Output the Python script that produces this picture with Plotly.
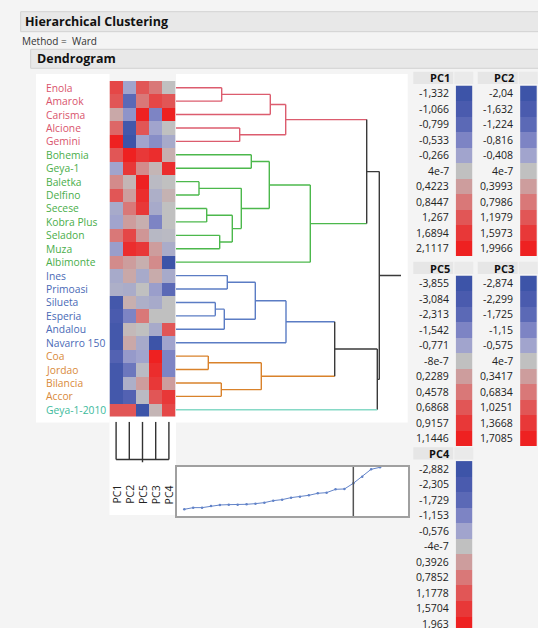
import plotly.graph_objects as go

W, H = 538, 628
FONT = "Open Sans"

# ---------------- data ----------------
names = ["Enola", "Amarok", "Carisma", "Alcione", "Gemini", "Bohemia", "Geya-1", "Baletka",
         "Delfino", "Secese", "Kobra Plus", "Seladon", "Muza", "Albimonte", "Ines", "Primoasi",
         "Silueta", "Esperia", "Andalou", "Navarro 150", "Coa", "Jordao", "Bilancia", "Accor",
         "Geya-1-2010"]
cluster = [0, 0, 0, 0, 0, 1, 1, 1, 1, 1, 1, 1, 1, 1, 2, 2, 2, 2, 2, 2, 3, 3, 3, 3, 4]
columns = ["PC1", "PC2", "PC5", "PC3", "PC4"]

# colour level of each cell (-5 = darkest blue ... 0 = grey ... 5 = brightest red)
pc1_level = [3.5, 3, 0.7, 2.5, 5, 3, -1, 1.5, 3, -0.8, -1, 2, -1.2, 1.5, -0.8, -0.6, -4.5, -4, -4.5, -4.5, -3.5, -4.5, -4.5, -4.5, 3]
pc2_level = [-1, -3, -1.5, -4.5, -5, 5, 4, 0.3, 1, 2, 1, 3.5, 4.5, 1, 0.7, -0.7, 0.5, -2, 0.2, 0.7, -1.3, -2.5, -0.6, -3.5, 3]
pc5_level = [3, 2, 5, 3, -1, 4, 1.5, 5, 4.5, 4, 0.5, 1.2, 4, 0.5, -0.8, 0, -0.6, 2, 0, -0.8, -1, -0.2, 1, -0.2, -5]
pc3_level = [2, 3.5, -2, -1, -1.7, 4.5, 0.3, -0.2, -0.6, -0.8, -2, -0.3, 1, 1.5, 0.6, -1.2, -0.8, 0, -0.8, -5, 5, 4.5, 4, 3, 0.3]
pc4_level = [0, 3, 5, 0, -0.8, 0.5, 4.5, 0, 0.4, 0, 0, -0.2, -0.7, -5, -0.8, -3, 0, 0, 3, -1, -2, -2, 1, 4, 3.5]

# Ward merges (leaf ids 0..24, merged nodes 25..)
merge_left = [0, 25, 3, 26, 5, 7, 9, 11, 31, 30, 29, 35, 14, 16, 38, 37, 40, 20, 22, 42, 41, 28, 45, 46]
merge_right = [1, 2, 4, 27, 6, 8, 10, 12, 32, 33, 34, 13, 15, 17, 18, 39, 19, 21, 23, 43, 44, 36, 24, 47]
merge_height = [45.7, 94.3, 63.7, 109.7, 75.3, 23, 30.7, 43.7, 56.3, 65.3, 93.3, 134.3, 51.3, 39.3,
                48.3, 79.3, 110, 32.3, 45.3, 85.3, 158.7, 190.7, 201.3, 203.3]
root_stem = 225

# scree (distance of each join)
scree_values = [0, 5, 5, 10, 13, 14, 14, 15, 17, 20, 26, 29, 35, 38, 42, 48, 50, 60, 61, 78, 98, 120, 126]
cut_index = 19

legend_levels = [-5, -4, -3, -2, -1, 0, 1, 2, 3, 4, 5]
pc1_ticks = ["-1,332", "-1,066", "-0,799", "-0,533", "-0,266", "4e-7", "0,4223", "0,8447", "1,267", "1,6894", "2,1117"]
pc2_ticks = ["-2,04", "-1,632", "-1,224", "-0,816", "-0,408", "4e-7", "0,3993", "0,7986", "1,1979", "1,5973", "1,9966"]
pc5_ticks = ["-3,855", "-3,084", "-2,313", "-1,542", "-0,771", "-8e-7", "0,2289", "0,4578", "0,6868", "0,9157", "1,1446"]
pc3_ticks = ["-2,874", "-2,299", "-1,725", "-1,15", "-0,575", "4e-7", "0,3417", "0,6834", "1,0251", "1,3668", "1,7085"]
pc4_ticks = ["-2,882", "-2,305", "-1,729", "-1,153", "-0,576", "-4e-7", "0,3926", "0,7852", "1,1778", "1,5704", "1,963"]

# ---------------- styles ----------------
level_colors = ['#3d54a8', '#4a5bae', '#5b69b6', '#7d84c4', '#a1a4cd', '#c0c0c0',
                '#cd9d9d', '#d97878', '#e15656', '#e83838', '#ee2121']
colorscale = [[i / 10, c] for i, c in enumerate(level_colors)]
line_colors = ['#dc5c6e', '#4cb84c', '#5b7cc4', '#d9822b', '#86d9c6']
label_colors = ['#d9546c', '#4aae4a', '#4a6ab6', '#d98a3a', '#3cba9c']
BLACK = '#3a3a3a'
BG = '#f4f4f4'


def fx(px):
    return px / W


def fy(py):
    return 1 - py / H


fig = go.Figure()
shapes = []
ann = []

# ---------------- panels / headers ----------------
shapes.append(dict(type='rect', xref='paper', yref='paper', x0=fx(20.7), x1=fx(545), y0=fy(31.7), y1=fy(11.7),
                   fillcolor='#e8e8e8', line=dict(color='#d2d2d2', width=1), layer='below'))
ann.append(dict(text='<b>Hierarchical Clustering</b>', xref='paper', yref='paper', x=fx(22.5), y=fy(21.7),
                xanchor='left', yanchor='middle', showarrow=False, font=dict(family=FONT, size=12.5, color='#111')))
ann.append(dict(text='Method =  Ward', xref='paper', yref='paper', x=fx(20), y=fy(41.5),
                xanchor='left', yanchor='middle', showarrow=False, font=dict(family=FONT, size=10, color='#333')))
shapes.append(dict(type='rect', xref='paper', yref='paper', x0=fx(30.7), x1=fx(545), y0=fy(68.3), y1=fy(49.3),
                   fillcolor='#e8e8e8', line=dict(color='#d2d2d2', width=1), layer='below'))
ann.append(dict(text='<b>Dendrogram</b>', xref='paper', yref='paper', x=fx(34.5), y=fy(58.8),
                xanchor='left', yanchor='middle', showarrow=False, font=dict(family=FONT, size=12.5, color='#111')))

# white panels
for x0, x1, y0, y1 in [(36, 109.5, 74, 422.5), (176, 407.7, 74, 422.5), (109.5, 176, 416.5, 515)]:
    shapes.append(dict(type='rect', xref='paper', yref='paper', x0=fx(x0), x1=fx(x1), y0=fy(y1), y1=fy(y0),
                       fillcolor='white', line=dict(width=0), layer='below'))

axis_off = dict(showgrid=False, zeroline=False, showticklabels=False, showline=False, ticks='', fixedrange=True)

# ---------------- heatmap ----------------
n = len(names)
z = [[pc1_level[i], pc2_level[i], pc5_level[i], pc3_level[i], pc4_level[i]] for i in range(n)]
fig.add_trace(go.Heatmap(z=z, x=list(range(5)), y=list(range(n)), colorscale=colorscale, zmin=-5, zmax=5,
                         showscale=False, hoverinfo='skip', xaxis='x', yaxis='y'))
for i, nm in enumerate(names):
    ann.append(dict(text=nm, xref='paper', yref='y', x=fx(43.5), y=i, xanchor='left', yanchor='middle',
                    showarrow=False, font=dict(family=FONT, size=10.3, color=label_colors[cluster[i]])))

# ---------------- row dendrogram ----------------
pos = {i: float(i) for i in range(n)}
hgt = {i: 0.0 for i in range(n)}
col = {i: cluster[i] for i in range(n)}
segs = {}


def add(c, xs, ys):
    s = segs.setdefault(c, ([], []))
    s[0].extend(xs + [None])
    s[1].extend(ys + [None])


for k, (a, b, h) in enumerate(zip(merge_left, merge_right, merge_height)):
    node = n + k
    for c in (a, b):
        add(col[c], [hgt[c], h], [pos[c], pos[c]])
    nc = col[a] if col[a] == col[b] else -1
    add(nc, [h, h], [pos[a], pos[b]])
    pos[node] = (pos[a] + pos[b]) / 2
    hgt[node] = h
    col[node] = nc
root = n + len(merge_height) - 1
add(col[root], [hgt[root], root_stem], [pos[root], pos[root]])

for c, (xs, ys) in segs.items():
    color = BLACK if c == -1 else line_colors[c]
    fig.add_trace(go.Scatter(x=xs, y=ys, mode='lines', line=dict(color=color, width=1.4),
                             hoverinfo='skip', showlegend=False, xaxis='x2', yaxis='y2'))

# ---------------- column dendrogram ----------------
cx, cy = [], []
for j in range(len(columns)):
    cx += [j, j, None]
    cy += [0, 1, None]
cx += [0, len(columns) - 1, None, 2, 2]
cy += [1, 1, None, 1, 1.08]
fig.add_trace(go.Scatter(x=cx, y=cy, mode='lines', line=dict(color='#333', width=1.4),
                         hoverinfo='skip', showlegend=False, xaxis='x3', yaxis='y3'))
for j, c in enumerate(columns):
    ann.append(dict(text=c, xref='x', yref='paper', x=j, y=fy(506), textangle=-90, xanchor='center',
                    yanchor='bottom', showarrow=False, font=dict(family=FONT, size=10.5, color='#222')))

# ---------------- scree plot ----------------
shapes.append(dict(type='rect', xref='paper', yref='paper', x0=fx(176.7), x1=fx(408.3), y0=fy(516), y1=fy(466.7),
                   fillcolor='white', line=dict(width=0), layer='below'))
fig.add_trace(go.Scatter(x=list(range(len(scree_values))), y=scree_values, mode='lines+markers',
                         line=dict(color='#6283c8', width=1), marker=dict(size=2.5, color='#6283c8'),
                         hoverinfo='skip', showlegend=False, xaxis='x4', yaxis='y4', cliponaxis=True))
fig.add_trace(go.Scatter(x=[cut_index, cut_index], y=[-30, 140], mode='lines', line=dict(color='#555', width=1.5),
                         hoverinfo='skip', showlegend=False, xaxis='x4', yaxis='y4'))

# ---------------- legends ----------------
legend_specs = [("PC1", pc1_ticks, 413.3, 71.7), ("PC2", pc2_ticks, 477.7, 71.7),
                ("PC5", pc5_ticks, 413.3, 261.7), ("PC3", pc3_ticks, 477.7, 261.7),
                ("PC4", pc4_ticks, 413.3, 447.3)]
layout_axes = {}
for li, (title, ticks, hx, hy) in enumerate(legend_specs):
    ax = 5 + li
    shapes.append(dict(type='rect', xref='paper', yref='paper', x0=fx(hx), x1=fx(hx + 40), y0=fy(hy + 12.3),
                       y1=fy(hy), fillcolor='#e6e6e6', line=dict(width=0), layer='below'))
    shapes.append(dict(type='rect', xref='paper', yref='paper', x0=fx(hx + 41), x1=fx(hx + 60), y0=fy(hy + 12.3),
                       y1=fy(hy), fillcolor='#eaeaea', line=dict(width=0), layer='below'))
    ann.append(dict(text='<b>%s</b>' % title, xref='paper', yref='paper', x=fx(hx + 38.5), y=fy(hy + 6.3),
                    xanchor='right', yanchor='middle', showarrow=False,
                    font=dict(family=FONT, size=11, color='#111')))
    top = hy + 13.8
    bottom = top + 15.5 * len(legend_levels)
    fig.add_trace(go.Heatmap(z=[[v] for v in legend_levels], x=[0], y=list(range(len(legend_levels))),
                             colorscale=colorscale, zmin=-5, zmax=5, showscale=False, hoverinfo='skip',
                             xaxis='x%d' % ax, yaxis='y%d' % ax))
    layout_axes['xaxis%d' % ax] = dict(domain=[fx(hx + 42.4), fx(hx + 59)], range=[-0.5, 0.5],
                                       anchor='y%d' % ax, **axis_off)
    layout_axes['yaxis%d' % ax] = dict(domain=[fy(bottom), fy(top)], range=[10.5, -0.5],
                                       anchor='x%d' % ax, **axis_off)
    for i, t in enumerate(ticks):
        ann.append(dict(text=t, xref='paper', yref='y%d' % ax, x=fx(hx + 37.5), y=i, xanchor='right',
                        yanchor='middle', showarrow=False, font=dict(family=FONT, size=10.5, color='#222')))

# fix domains that go beyond paper (keep the scale, clip the range)
for k, v in layout_axes.items():
    d = v['domain']
    if d[0] < 0:
        frac = (0 - d[0]) / (d[1] - d[0])
        r0, r1 = v['range']
        v['range'] = [r0 + (r1 - r0) * frac, r1]
        v['domain'] = [0, d[1]]

fig.update_layout(
    width=W, height=H, margin=dict(l=0, r=0, t=0, b=0),
    paper_bgcolor=BG, plot_bgcolor='rgba(0,0,0,0)', showlegend=False,
    xaxis=dict(domain=[fx(109.5), fx(175.5)], range=[-0.5, 4.5], anchor='y', **axis_off),
    yaxis=dict(domain=[fy(416.5), fy(81)], range=[24.5, -0.5], anchor='x', **axis_off),
    xaxis2=dict(domain=[fx(176), fx(407.7)], range=[0, 231.7], anchor='y2', **axis_off),
    yaxis2=dict(domain=[fy(416.5), fy(81)], range=[24.5, -0.5], anchor='x2', **axis_off),
    xaxis3=dict(domain=[fx(109.5), fx(175.5)], range=[-0.5, 4.5], anchor='y3', **axis_off),
    yaxis3=dict(domain=[fy(462.5), fy(421.7)], range=[1.08, 0], anchor='x3', **axis_off),
    xaxis4=dict(domain=[fx(176.7), fx(408.3)], range=[-0.854, 25.18], anchor='y4',
                showgrid=False, zeroline=False, showticklabels=False, ticks='', fixedrange=True,
                showline=True, mirror=True, linecolor='#a0a0a0', linewidth=1.5),
    yaxis4=dict(domain=[fy(516), fy(466.7)], range=[-20.1, 127.8], anchor='x4',
                showgrid=False, zeroline=False, showticklabels=False, ticks='', fixedrange=True,
                showline=True, mirror=True, linecolor='#a0a0a0', linewidth=1.5),
    shapes=shapes, annotations=ann,
)
fig.update_layout(**layout_axes)

fig.write_html("out.html", config={'displayModeBar': False},
               post_script="document.body.style.margin='0px';document.body.style.overflow='hidden';")
